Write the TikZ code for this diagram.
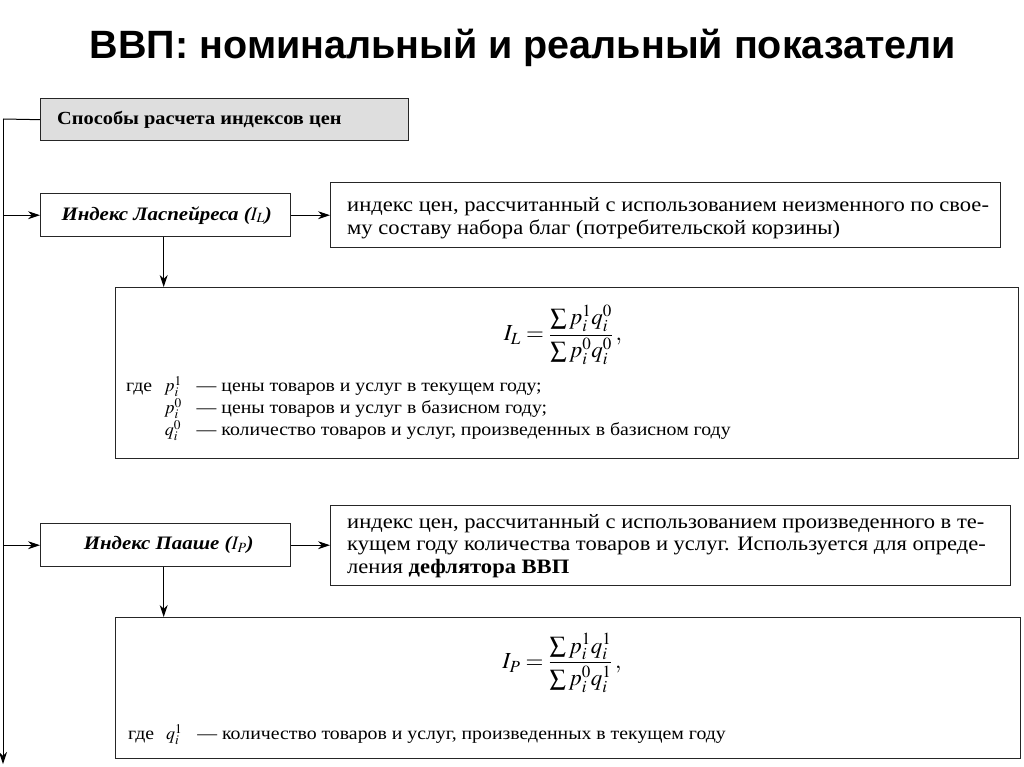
\documentclass[tikz,border=0pt]{standalone}
\usepackage{amsmath}
\usepackage{mathptmx}
\usepackage{fontspec}
\setmainfont[FakeStretch=1.1]{Liberation Serif}
\newfontfamily\titlefont{Liberation Sans}
\usetikzlibrary{arrows.meta,positioning}
\tikzset{
  box/.style={draw=black!85, line width=1.4pt, inner sep=0pt, anchor=north west},
  arr/.style={line width=1pt, -{Stealth[length=12pt,width=8pt]}},
  ln/.style={line width=1pt},
  desc/.style={font=\fontsize{20.5}{22.5}\selectfont, anchor=west, align=left, inner sep=0pt},
  expl/.style={font=\fontsize{18}{22}\selectfont, anchor=north west, inner sep=0pt},
  hdr/.style={font=\bfseries\itshape\fontsize{19}{23}\selectfont, inner sep=0pt},
  frm/.style={font=\fontsize{23}{27}\selectfont, inner sep=0pt},
}
\begin{document}
\begin{tikzpicture}[x=1pt,y=-1pt]
\useasboundingbox (0,0) rectangle (1024,767);
\node[font=\titlefont\bfseries\fontsize{39.5}{44}\selectfont] (title) at (523,48) {ВВП: номинальный и реальный показатели};

% top box
\node[box, fill=black!13, minimum width=368pt, minimum height=42pt] (top) at (40,98) {};
\node[anchor=west, font=\bfseries\fontsize{18.5}{23}\selectfont, inner sep=0pt] (toptext) at ([xshift=17pt]top.west) {Способы расчета индексов цен};

% Laspeyres
\node[box, minimum width=250pt, minimum height=43pt] (L) at (40,193) {};
\node[hdr] (Ltext) at ([xshift=1pt]L.center) {Индекс Ласпейреса ($\boldsymbol{I_L}$)};
\node[box, minimum width=670pt, minimum height=65pt] (Ld) at (330,182) {};
\node[desc] (Ldtext) at ([xshift=17pt,yshift=-3pt]Ld.west) {индекс цен, рассчитанный с использованием неизменного по свое-\\му составу набора благ (потребительской корзины)};
\node[box, minimum width=903pt, minimum height=171pt] (Lf) at (115,287) {};
\node[frm] (Lformula) at (563,335) {$I_L=\dfrac{\textstyle\sum p_i^1q_i^0}{\textstyle\sum p_i^0q_i^0}\,,$};
\node[expl] (Lexpl) at (126,376) {\begin{tabular}{@{}l@{\hspace{12pt}}c@{\hspace{15pt}}l@{}}
где & $p_i^1$ & — цены товаров и услуг в текущем году;\\
    & $p_i^0$ & — цены товаров и услуг в базисном году;\\
    & $q_i^0$ & — количество товаров и услуг, произведенных в базисном году
\end{tabular}};

% Paasche
\node[box, minimum width=250pt, minimum height=43pt] (P) at (40,523) {};
\node[hdr] (Ptext) at ([xshift=3pt]P.center) {Индекс Пааше ($\boldsymbol{I_P}$)};
\node[box, minimum width=680pt, minimum height=80pt] (Pd) at (330,505) {};
\node[desc] (Pdtext) at ([xshift=17pt]Pd.west) {индекс цен, рассчитанный с использованием произведенного в те-\\кущем году количества товаров и услуг. Используется для опреде-\\ления \textbf{дефлятора ВВП}};
\node[box, minimum width=905pt, minimum height=141pt] (Pf) at (115,617) {};
\node[frm] (Pformula) at (562,663) {$I_P=\dfrac{\textstyle\sum p_i^1q_i^1}{\textstyle\sum p_i^0q_i^1}\,,$};
\node[expl] (Pexpl) at (128,724) {\begin{tabular}{@{}l@{\hspace{12pt}}c@{\hspace{15pt}}l@{}}
где & $q_i^1$ & — количество товаров и услуг, произведенных в текущем году
\end{tabular}};

% spine
\coordinate (s0) at (3,119);
\coordinate (send) at (3,764);
\draw[ln] (top.west) -- (s0);
\draw[arr] (s0) -- (send);
\draw[arr] (s0 |- L.west) -- (L.west);
\draw[arr] (s0 |- P.west) -- (P.west);
\draw[arr] (L.east) -- (L.east -| Ld.west);
\draw[arr] (P.east) -- (P.east -| Pd.west);
\draw[arr] ([xshift=-2pt]L.south) -- ([xshift=-2pt]L.south |- Lf.north);
\draw[arr] ([xshift=-2pt]P.south) -- ([xshift=-2pt]P.south |- Pf.north);
\end{tikzpicture}
\end{document}
